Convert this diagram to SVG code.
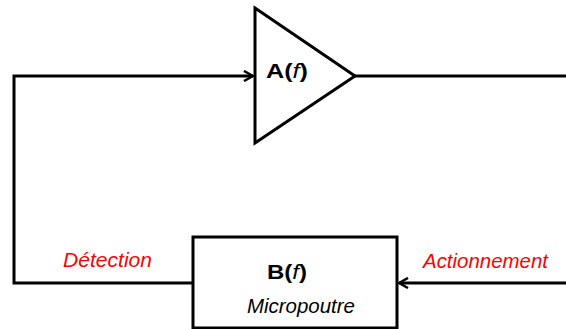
<svg xmlns="http://www.w3.org/2000/svg" width="566" height="329" viewBox="0 0 566 329">
<defs>
<style>
.ln{fill:none;stroke:#000;stroke-width:3;stroke-linejoin:miter}
.lbl{font-family:"Liberation Sans",Arial,sans-serif;font-style:italic;font-size:20px;fill:#ff0000}
.blk{font-family:"Liberation Sans",Arial,sans-serif;font-weight:bold;font-size:21px;fill:#000}
.sub{font-family:"Liberation Sans",Arial,sans-serif;font-style:italic;font-size:21px;fill:#000}
</style>
<marker id="arr" viewBox="0 0 12 12" refX="11" refY="6" markerWidth="12" markerHeight="12" markerUnits="userSpaceOnUse" orient="auto">
<path d="M2,1 L11,6 L2,11" fill="none" stroke="#000" stroke-width="2.5"/>
</marker>
</defs>
<rect width="566" height="329" fill="#fff"/>
<g id="connectors">
<polyline class="ln" points="355,76 570,76"/>
<polyline class="ln" points="570,283 399,283" marker-end="url(#arr)"/>
<polyline class="ln" points="193,283 14,283 14,76 253,76" marker-end="url(#arr)"/>
</g>
<g id="amp">
<polygon class="ln" points="255,8 355,76 255,143"/>
<text class="blk" x="266" y="78" textLength="42" lengthAdjust="spacingAndGlyphs">A(<tspan font-style="italic" font-weight="normal">f</tspan>)</text>
</g>
<g id="beam">
<rect class="ln" x="193" y="237" width="204" height="91"/>
<text class="blk" x="267" y="279" textLength="40" lengthAdjust="spacingAndGlyphs">B(<tspan font-style="italic" font-weight="normal">f</tspan>)</text>
<text class="sub" x="247" y="313" textLength="108" lengthAdjust="spacingAndGlyphs">Micropoutre</text>
</g>
<g id="labels">
<text class="lbl" x="63" y="267" textLength="89" lengthAdjust="spacingAndGlyphs">Détection</text>
<text class="lbl" x="423" y="268" textLength="125" lengthAdjust="spacingAndGlyphs">Actionnement</text>
</g>
</svg>
